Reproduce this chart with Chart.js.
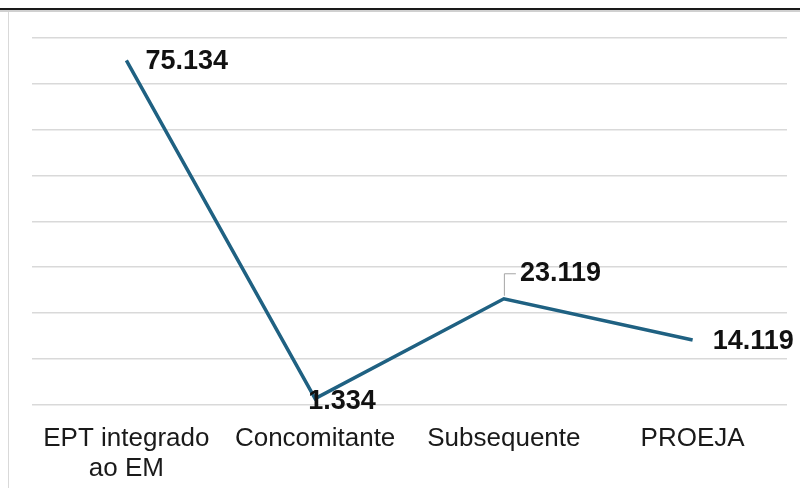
<!DOCTYPE html>
<html>
<head>
<meta charset="utf-8">
<script src="https://cdn.jsdelivr.net/npm/chart.js@4"></script>
<style>
  html, body { margin: 0; padding: 0; background: #fff; }
  #wrap { position: relative; width: 800px; height: 488px; }
  #topline { position: absolute; left: 0; top: 8px; width: 800px; height: 2px; background: #1a1a1a; }
  #topshade { position: absolute; left: 0; top: 10px; width: 800px; height: 2px; background: #d0d0d0; }
  #leftline { position: absolute; left: 8px; top: 12px; width: 1px; height: 476px; background: #d9d9d9; }
  canvas { position: absolute; left: 0; top: 0; }
</style>
</head>
<body>
<div id="wrap">
  <canvas id="chart" width="800" height="488"></canvas>
  <div id="topline"></div>
  <div id="topshade"></div>
  <div id="leftline"></div>
</div>
<script>
const categories = [["EPT integrado", "ao EM"], "Concomitante", "Subsequente", "PROEJA"];
const values = [75.134, 1.334, 23.119, 14.119];
const valueLabels = ["75.134", "1.334", "23.119", "14.119"];

// label placement per point: dx, dy relative to point
const labelPos = [
    { dx: 19, dy: 1 },
    { dx: -7, dy: 3 },
    { dx: 16, dy: -25, leader: true },
    { dx: 20, dy: 2 },
];

const dataLabelPlugin = {
    id: "dataLabels",
    afterDatasetsDraw(chart) {
        const ctx = chart.ctx;
        const meta = chart.getDatasetMeta(0);
        ctx.save();
        ctx.font = "bold 27px 'Liberation Sans', Arial, sans-serif";
        ctx.fillStyle = "#111";
        ctx.textBaseline = "middle";
        ctx.textAlign = "left";
        meta.data.forEach((pt, i) => {
            const p = labelPos[i];
            const x = pt.x + p.dx;
            const y = pt.y + p.dy;
            if (p.leader) {
                ctx.strokeStyle = "#a6a6a6";
                ctx.lineWidth = 1;
                ctx.beginPath();
                ctx.moveTo(pt.x + 0.5, pt.y - 3);
                ctx.lineTo(pt.x + 0.5, y);
                ctx.lineTo(x - 4, y);
                ctx.stroke();
            }
            ctx.fillText(valueLabels[i], x, y);
        });
        ctx.restore();
    }
};

const ctx = document.getElementById("chart").getContext("2d");
new Chart(ctx, {
    type: "line",
    data: {
        labels: categories,
        datasets: [{
            data: values,
            borderColor: "#1f6182",
            borderWidth: 3.5,
            pointRadius: 0,
            tension: 0,
            fill: false,
        }],
    },
    options: {
        responsive: false,
        animation: false,
        layout: { padding: { left: 32, right: 13, top: 38, bottom: -7 } },
        plugins: {
            legend: { display: false },
            tooltip: { enabled: false },
        },
        scales: {
            x: {
                offset: true,
                grid: { display: false },
                border: { display: false },
                ticks: {
                    color: "#1a1a1a",
                    font: { family: "'Liberation Sans', Arial, sans-serif", size: 26, lineHeight: 1.12 },
                    maxRotation: 0,
                    autoSkip: false,
                    padding: 12,
                },
            },
            y: {
                min: 0,
                max: 80,
                ticks: { display: false, stepSize: 10 },
                grid: { color: "#d9d9d9", lineWidth: 1.5, drawTicks: false },
                border: { display: false },
            },
        },
    },
    plugins: [dataLabelPlugin],
});
</script>
</body>
</html>
